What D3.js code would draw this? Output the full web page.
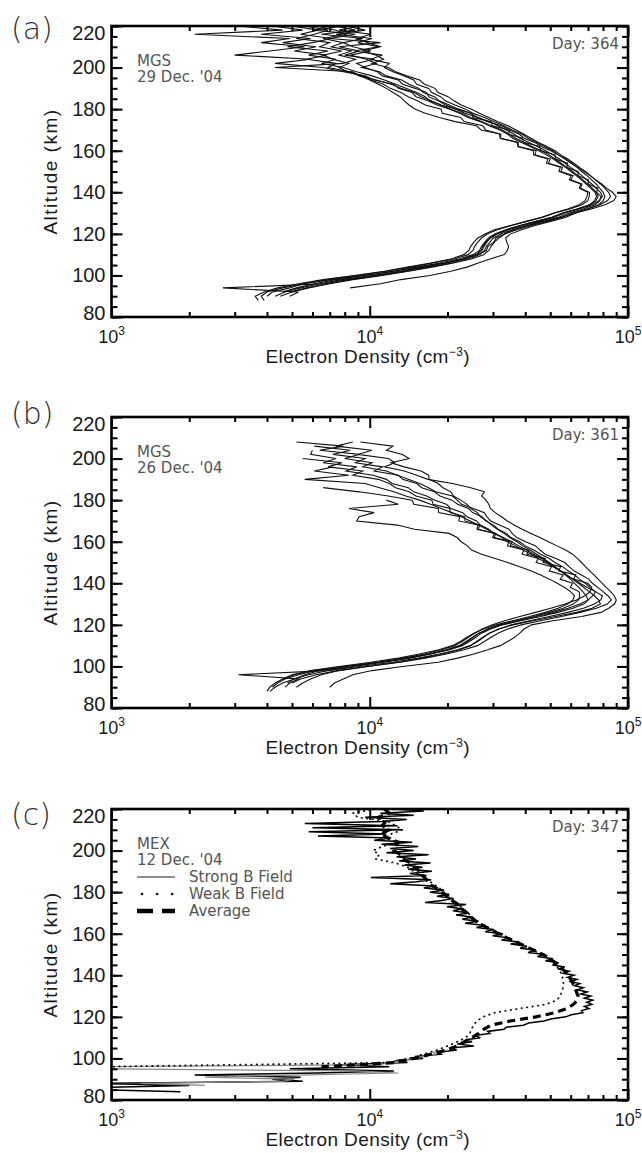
<!DOCTYPE html>
<html>
<head>
<meta charset="utf-8">
<script src="https://cdn.jsdelivr.net/npm/d3@7"></script>
<style>
  body { margin: 0; background: #fff; }
  svg { display: block; }
</style>
</head>
<body>
<script>
// Axis ticks
const yTicks = [80, 100, 120, 140, 160, 180, 200, 220];
const xTicks = [1e3, 1e4, 1e5];
const xExps = ["3", "4", "5"];

// Panel (a) MGS 29 Dec '04 - densities in 1e3 cm^-3, 2 km steps from the top altitude
const topsA = [220, 220, 220, 220, 220, 220, 220, 220, 220];
const a1 = [4.2,5.5,3.8,5.9,4.6,6.2,5.1,6.8,5.7,7.4,6.9,8.4,9.1,10.6,12.1,13.2,14.9,15.8,17.3,18.9,21.6,23.4,26.3,28.6,32.4,34.8,37.9,39.6,43.5,46.1,50.3,53.6,57.4,60.5,64.2,67.6,71.3,74.8,79.1,82.6,87.0,90.0,88.2,81.5,72.0,62.4,55.1,47.3,41.2,36.1,33.4,30.8,30.2,28.7,28.3,26.2,23.1,19.4,15.2,12.3,9.4,7.1,5.5,4.9,4.2,4.0];
const a2 = [8.1,9.6,7.4,10.2,9.0,10.8,8.7,11.2,10.1,11.9,11.4,12.3,13.6,14.8,15.2,16.9,17.4,18.8,19.6,21.4,23.5,25.1,27.8,30.2,33.1,35.6,38.8,41.0,44.2,47.5,51.1,53.8,57.0,60.2,63.5,66.1,69.4,72.3,75.2,77.6,80.1,81.4,80.2,77.0,70.3,62.8,57.5,50.2,43.6,38.7,35.2,33.6,33.9,34.5,34.1,33.2,29.4,26.3,23.8,20.6,17.1,13.2,11.0,8.4];
const a3 = [5.6,6.9,6.1,5.2,7.0,6.4,7.8,6.6,7.2,8.3,7.6,8.2,9.4,10.1,11.3,12.0,13.2,14.1,15.3,16.4,18.9,19.1,22.5,23.2,27.4,28.1,32.2,32.1,37.6,37.5,44.1,43.6,50.0,49.2,55.8,55.0,61.3,60.1,66.4,65.5,70.9,70.8,69.9,66.4,59.6,52.1,46.9,40.3,35.1,30.4,28.1,26.2,25.3,24.6,24.2,23.1,20.8,17.2,14.0,11.4,8.7,6.6,5.3,4.4,3.9,3.6,3.7];
const a4 = [7.3,8.8,6.5,9.4,7.9,8.6,10.1,8.4,9.7,10.6,9.3,10.9,11.6,13.3,14.2,15.5,16.1,17.8,18.6,20.3,22.1,24.6,26.2,28.9,31.4,33.8,36.2,38.1,41.3,44.6,48.0,51.2,54.3,57.1,60.0,63.2,66.3,69.1,72.4,75.1,78.2,79.6,77.1,72.8,64.5,56.9,51.8,45.4,39.2,34.6,31.1,29.4,28.1,27.4,27.0,25.8,23.2,19.6,16.1,13.1,10.2,7.8,6.4,5.4,4.7,4.3];
const a5 = [3.1,4.6,2.1,4.9,3.8,5.6,4.1,3.0,5.9,4.3,6.6,7.9,9.6,10.4,12.4,12.9,14.6,15.1,16.8,18.2,20.4,22.3,24.0,26.8,29.0,31.9,34.1,35.8,38.7,41.8,45.1,48.3,51.4,54.2,57.3,60.1,63.0,66.0,68.7,71.6,74.5,75.6,74.3,70.9,63.4,56.1,50.6,44.1,38.3,33.7,30.6,28.8,27.9,27.1,26.6,25.1,22.4,18.7,15.3,12.4,9.6,7.4,6.1,5.2,4.6];
const a6 = [6.2,7.4,8.1,6.6,7.9,7.1,8.5,7.6,8.8,7.9,4.3,8.6,9.2,10.0,10.8,11.6,12.3,13.1,13.6,14.2,15.0,16.4,18.6,21.4,25.9,27.0,31.8,32.0,37.2,37.5,43.0,43.1,48.9,48.4,54.7,54.0,60.2,59.3,65.6,64.8,69.9,69.4,68.2,64.7,58.3,51.6,46.2,40.5,35.4,31.2,28.6,27.1,26.2,25.5,25.1,24.0,21.4,17.6,14.4,11.6,8.9,6.9,5.6,4.6,4.0,3.8,3.9];
const a7 = [9.2,7.6,10.1,8.9,9.8,11.0,9.4,10.6,11.3,10.2,11.8,12.6,13.9,15.6,16.3,17.9,18.4,20.1,21.2,22.6,24.8,26.6,28.9,31.2,34.3,36.9,39.4,42.1,45.0,48.6,52.1,55.0,58.4,61.8,64.9,68.3,71.6,74.9,78.2,81.3,84.1,85.6,83.4,77.9,69.0,60.9,55.8,48.6,42.3,37.1,33.5,31.6,30.4,29.5,28.9,27.6,24.9,21.1,17.4,14.1,11.2,8.6,7.0,5.8,5.0,4.5];
const a8 = [5.0,6.3,5.4,7.1,6.0,4.8,6.9,5.8,7.4,6.5,7.9,8.9,10.2,11.4,12.6,13.8,15.2,16.4,17.1,18.8,20.6,22.8,24.6,27.1,29.6,32.6,34.6,36.7,39.6,42.4,46.3,49.4,52.2,55.1,58.0,61.1,64.0,66.9,69.8,72.7,75.4,76.6,75.2,71.5,63.8,55.9,50.9,44.0,38.2,33.8,31.2,29.2,28.4,27.7,27.2,26.0,23.5,19.8,16.3,13.5,10.6,8.2,6.7,2.7,5.3,4.9];
const a9 = [7.9,6.1,8.8,7.0,11.0,7.6,9.1,8.0,10.4,8.9,9.6,10.7,11.2,12.9,13.4,15.0,16.6,16.9,18.4,19.7,21.6,24.8,25.1,29.5,29.8,34.9,34.4,39.0,39.4,45.4,46.0,52.2,52.5,58.3,58.0,64.2,64.0,70.3,70.1,76.3,75.6,78.6,77.8,74.6,66.9,59.3,53.8,46.9,40.6,35.7,32.3,30.1,29.2,28.3,27.8,26.7,24.3,20.6,17.0,13.9,10.9,8.4,6.8,5.7,4.9];

// Panel (b) MGS 26 Dec '04 - 2 km steps
const topsB = [208, 206, 204, 208, 200, 196, 186, 180, 208];
const b1 = [5.2,7.9,6.4,9.1,8.0,10.2,9.4,11.6,12.8,14.1,15.6,16.9,18.0,20.9,21.8,22.7,25.2,27.8,28.4,29.4,31.8,34.6,35.6,37.1,40.2,43.9,45.6,47.8,52.3,56.9,59.1,61.8,66.0,70.5,72.8,76.3,80.1,83.6,86.2,83.1,75.4,65.2,55.3,45.8,38.6,34.2,31.4,29.5,27.8,26.1,23.2,19.8,16.4,13.1,9.8,7.6,6.5,5.9,5.5,5.2];
const b2 = [6.1,8.4,7.2,9.6,8.8,11.2,10.4,12.9,13.4,15.2,15.9,17.8,18.7,20.8,21.9,24.1,25.0,27.2,28.1,30.2,31.4,33.8,35.2,38.1,40.0,43.2,45.9,49.4,52.1,55.8,58.6,62.1,64.9,68.3,71.2,74.8,79.6,78.4,74.1,67.2,58.3,49.6,41.5,35.3,31.6,29.1,27.6,26.2,24.4,21.9,18.6,15.4,12.3,9.1,6.9,5.8,5.1,4.6,4.3,4.1];
const b3 = [6.0,5.9,7.4,6.6,8.9,8.1,10.3,11.6,12.2,14.1,14.8,16.6,17.9,19.8,20.6,22.9,23.8,25.9,26.8,28.9,30.2,32.6,34.1,36.8,39.2,42.3,44.8,48.1,51.2,54.6,57.8,61.5,65.2,69.6,74.8,73.1,70.2,65.1,58.6,51.4,44.2,37.6,32.1,28.8,26.4,25.0,23.6,22.2,19.8,16.9,13.8,10.9,8.2,6.4,5.6,5.1,4.8];
const b4 = [9.2,12.3,11.6,13.4,14.2,12.1,13.6,15.8,16.9,17.0,18.4,19.2,20.6,21.1,22.5,23.8,24.6,26.1,26.9,28.4,29.6,31.2,33.1,34.8,37.2,39.1,41.8,44.3,47.0,49.6,52.1,54.8,57.3,59.8,62.1,64.5,66.8,68.9,70.1,67.4,61.2,53.4,45.9,38.4,32.6,29.4,27.1,25.8,24.3,22.8,20.4,17.2,14.3,11.4,8.6,6.8,3.1,5.3,4.9,4.7];
const b5 = [5.5,7.8,6.9,9.4,8.6,10.8,11.9,12.6,14.2,15.1,17.4,17.6,20.4,20.5,23.3,23.4,26.7,26.3,30.4,29.9,34.6,34.1,39.5,38.9,45.0,44.1,50.6,49.5,56.1,54.6,61.0,59.8,64.6,65.1,64.3,61.4,56.1,49.6,43.1,36.8,31.9,28.7,26.6,25.2,23.9,22.4,20.1,17.1,14.0,10.8,7.9,6.0,5.1,4.6,4.3,4.1,4.0];
const b6 = [7.2,6.1,8.3,5.6,9.6,10.9,12.4,13.8,15.6,17.2,18.9,20.8,22.6,24.5,26.3,28.4,30.6,32.9,35.4,37.8,40.5,43.2,46.1,49.0,51.9,54.8,57.9,61.0,64.2,67.5,70.8,74.1,77.0,78.2,72.6,63.1,52.4,42.9,35.8,31.6,29.0,27.4,25.9,24.6,22.3,19.1,16.0,12.9,9.8,7.5,6.2,5.4,5.0];
const b7 = [6.6,9.1,11.8,14.6,14.8,18.4,18.5,22.3,22.1,26.2,26.0,30.8,30.3,35.6,35.0,41.3,40.6,47.8,46.9,54.9,53.8,62.8,61.5,69.9,72.4,71.3,68.1,63.2,57.0,50.2,43.8,38.1,33.4,29.8,27.2,25.5,24.1,22.8,21.3,19.0,16.3,13.5,10.8,8.1,6.2,5.3,4.7,4.4,4.2];
const b8 = [11.6,12.9,8.3,10.4,9.1,8.9,12.8,14.9,20.3,21.8,22.6,23.9,24.8,27.1,30.4,34.2,38.1,42.0,45.9,49.6,53.2,56.8,59.9,62.1,61.2,58.4,53.6,47.8,41.6,35.7,30.9,27.6,25.3,23.8,22.4,20.9,18.5,15.6,12.9,10.1,7.6,5.9,5.0,4.6];
const b9 = [8.6,7.4,10.2,9.0,11.8,12.5,11.4,13.6,15.2,16.8,20.9,24.6,27.8,27.1,28.2,28.9,29.3,30.6,32.4,34.1,36.2,38.9,42.1,45.6,49.2,53.1,57.4,61.0,63.6,66.1,68.4,71.0,73.8,76.6,79.5,82.4,85.6,88.4,90.1,88.7,84.2,78.6,66.1,51.2,42.3,39.6,38.1,36.4,34.2,32.0,28.6,25.3,21.9,18.4,13.4,10.2,8.6,7.9,7.3,7.0];

// Panel (c) MEX 12 Dec '04
// strong B field: 1 km steps from 220 km
const strong1 = [12.5,16.2,11.0,14.8,9.6,13.9,11.2,5.6,12.8,6.0,13.4,5.8,11.6,6.3,12.1,10.4,14.6,11.1,15.4,12.0,14.8,11.6,16.9,12.7,15.1,13.0,17.2,13.6,16.0,14.1,17.4,14.3,16.6,10.1,17.3,15.2,12.0,17.8,16.2,19.4,17.1,20.3,18.2,21.1,19.0,16.4,23.6,19.9,22.8,21.0,24.2,21.6,24.9,22.8,26.3,23.4,28.1,25.9,30.2,28.0,32.8,29.9,34.6,32.4,37.9,35.1,40.6,38.2,44.1,41.0,47.8,44.6,51.2,47.9,53.8,51.0,56.9,53.6,59.1,56.2,61.8,58.4,63.5,60.1,65.0,62.0,67.1,63.8,69.4,65.6,71.8,67.9,73.0,69.2,72.4,67.8,70.6,66.1,66.9,60.3,57.4,50.2,47.3,41.2,39.4,33.8,33.1,28.6,29.2,25.4,26.8,23.6,24.9,21.8,25.3,20.4,21.7,18.3,18.9,15.2,16.1,12.6,14.0,7.8,11.9,4.9,12.4,6.2,2.1,5.4,4.2,5.5,0.9,2.0,0.9,0.9,1.85];
// strong B field, second pass: 1 km steps from 104 km
const strong2 = [20.1,17.6,17.9,15.8,15.0,13.1,12.2,10.6,0.9,0.9,8.8,12.9,5.2,2.3,5.1,4.6,1.3,2.3];
// weak B field: 2 km steps from 220 km
const weak = [10.5,8.6,9.0,11.8,12.6,13.4,12.1,11.5,12.8,11.2,10.3,10.9,10.5,12.6,14.0,14.8,15.8,16.7,17.6,18.6,19.4,20.3,21.2,22.1,23.0,24.0,25.0,26.2,27.6,29.4,31.5,34.0,36.8,39.8,43.0,46.2,49.0,51.5,53.2,54.6,55.5,56.0,56.2,56.0,55.4,54.6,53.0,48.0,38.0,30.5,27.5,26.0,25.2,24.8,24.4,23.5,21.8,20.0,18.2,16.1,14.2,11.8,0.9];
// average: 2 km steps from 220 km
const average = [11.4,11.9,10.8,11.5,11.2,11.9,11.0,11.8,12.9,12.6,12.4,13.2,13.4,14.4,14.9,15.6,16.0,16.6,16.9,18.1,18.9,20.0,20.8,22.0,22.7,23.8,24.6,25.8,27.4,29.5,31.6,34.0,37.0,39.9,43.4,46.8,49.8,52.4,54.8,56.8,58.6,60.0,61.2,62.2,63.2,64.0,63.6,61.5,58.0,52.0,44.0,35.0,29.5,27.6,26.4,24.8,23.2,21.8,19.8,17.2,14.8,12.4,6.5];

// Panel texts
const panelLabels = ["(a)", "(b)", "(c)"];
const craft = ["MGS", "MGS", "MEX"];
const dates = ["29 Dec. '04", "26 Dec. '04", "12 Dec. '04"];
const days = ["Day: 364", "Day: 361", "Day: 347"];
const legendNames = ["Strong B Field", "Weak B Field", "Average"];

// turn a value list into {alt, n} points
function profile(values, topAlt, step) {
    return values.map((v, i) => ({ alt: topAlt - i * step, n: v * 1000 }));
}

const width = 642, height = 1153;
const left = 111.5, right = 628, plotH = 291;
const panelTops = [26, 417, 809];
const labelBase = [39, 424, 825];

const svg = d3.select("body").append("svg")
    .attr("width", width)
    .attr("height", height);

const x = d3.scaleLog().domain([1e3, 1e5]).range([left, right]);

const panelData = [
    [a1, a2, a3, a4, a5, a6, a7, a8, a9].map((v, i) => ({ pts: profile(v, topsA[i], 2), style: "solid" })),
    [b1, b2, b3, b4, b5, b6, b7, b8, b9].map((v, i) => ({ pts: profile(v, topsB[i], 2), style: "solid" })),
    [
        { pts: profile(strong1, 220, 1), style: "strong" },
        { pts: profile(strong2, 104, 1), style: "gray" },
        { pts: profile(weak, 220, 2), style: "dot" },
        { pts: profile(average, 220, 2), style: "dash" }
    ]
];

const sans = "'Liberation Sans', Arial, sans-serif";
const thin = "'DejaVu Sans', sans-serif";

panelTops.forEach((top, p) => {
    const y = d3.scaleLinear().domain([80, 220]).range([top + plotH, top]);
    const g = svg.append("g");

    // clip region for the curves
    g.append("clipPath").attr("id", "clip" + p)
        .append("rect")
        .attr("x", left).attr("y", top)
        .attr("width", right - left).attr("height", plotH);

    const line = d3.line()
        .x(d => x(d.n))
        .y(d => y(d.alt));

    const curves = g.append("g").attr("clip-path", `url(#clip${p})`);
    panelData[p].forEach(c => {
        const path = curves.append("path")
            .attr("d", line(c.pts))
            .attr("fill", "none");
        if (c.style === "solid") {
            path.attr("stroke", "#111").attr("stroke-width", 1.1);
        } else if (c.style === "strong") {
            path.attr("stroke", "#000").attr("stroke-width", 1.5);
        } else if (c.style === "gray") {
            path.attr("stroke", "#888").attr("stroke-width", 1.2);
        } else if (c.style === "dot") {
            path.attr("stroke", "#111").attr("stroke-width", 1.8)
                .attr("stroke-linecap", "round")
                .attr("stroke-dasharray", "0.5,5");
        } else {
            path.attr("stroke", "#000").attr("stroke-width", 3.2)
                .attr("stroke-dasharray", "8,5");
        }
    });

    // y ticks, left (with labels) and right
    const yAxis = g.append("g").attr("transform", `translate(${left},0)`)
        .call(d3.axisLeft(y).tickValues(yTicks).tickSize(-11).tickPadding(6));
    yAxis.selectAll("text")
        .attr("y", d => d === 220 ? 7 : (d === 80 ? -4 : 0))
        .style("font-family", sans)
        .style("font-size", "20px")
        .attr("fill", "#1a1a1a");
    g.append("g").attr("transform", `translate(${left},0)`)
        .call(d3.axisLeft(y).ticks(28).tickSize(-6).tickFormat(""));
    g.append("g").attr("transform", `translate(${right},0)`)
        .call(d3.axisRight(y).tickValues(yTicks).tickSize(-11).tickFormat(""));
    g.append("g").attr("transform", `translate(${right},0)`)
        .call(d3.axisRight(y).ticks(28).tickSize(-6).tickFormat(""));

    // x ticks, bottom and top
    const minor = x.ticks().filter(v => !xTicks.includes(v));
    [[top + plotH, d3.axisBottom], [top, d3.axisTop]].forEach(([ty, ax]) => {
        g.append("g").attr("transform", `translate(0,${ty})`)
            .call(ax(x).tickValues(xTicks).tickSize(-11).tickFormat(""));
        g.append("g").attr("transform", `translate(0,${ty})`)
            .call(ax(x).tickValues(minor).tickSize(-5).tickFormat(""));
    });
    g.selectAll(".domain").remove();
    g.selectAll(".tick line").attr("stroke", "#000").attr("stroke-width", 2);

    // frame
    g.append("rect")
        .attr("x", left).attr("y", top)
        .attr("width", right - left).attr("height", plotH)
        .attr("fill", "none").attr("stroke", "#000").attr("stroke-width", 2.6);

    // x tick labels 10^n
    xTicks.forEach((v, i) => {
        const t = g.append("text")
            .attr("x", x(v)).attr("y", top + plotH + 26)
            .attr("text-anchor", "middle")
            .style("font-family", sans)
            .style("font-size", "18px")
            .attr("fill", "#1a1a1a");
        t.append("tspan").text("10");
        t.append("tspan").attr("dy", -8).style("font-size", "12px").text(xExps[i]);
    });

    // axis titles
    const xt = g.append("text")
        .attr("x", (left + right) / 2 - 2).attr("y", top + plotH + 46)
        .attr("text-anchor", "middle")
        .style("font-family", sans)
        .style("font-size", "19px")
        .style("letter-spacing", "0.4px")
        .attr("fill", "#1a1a1a");
    xt.append("tspan").text("Electron Density (cm");
    xt.append("tspan").attr("dy", -7).style("font-size", "12px").text("\u22123");
    xt.append("tspan").attr("dy", 7).text(")");

    g.append("text")
        .attr("transform", `translate(57,${top + plotH / 2}) rotate(-90)`)
        .attr("text-anchor", "middle")
        .style("font-family", sans)
        .style("font-size", "19px")
        .style("letter-spacing", "1.5px")
        .attr("fill", "#1a1a1a")
        .text("Altitude (km)");

    // panel letter
    g.append("text")
        .attr("x", 11).attr("y", labelBase[p])
        .style("font-family", thin)
        .style("font-size", "30px")
        .style("font-weight", 200)
        .attr("fill", "#333")
        .text(panelLabels[p]);

    // annotations
    const note = (tx, ty, s, anchor) => g.append("text")
        .attr("x", tx).attr("y", ty)
        .attr("text-anchor", anchor || "start")
        .style("font-family", thin)
        .style("font-size", "15px")
        .attr("fill", "#555")
        .text(s);
    note(137, top + 40, craft[p]);
    note(137, top + 56, dates[p]);
    note(619, top + 23, days[p], "end");

    if (p === 2) {
        // legend
        const rows = [top + 68, top + 85, top + 102];
        g.append("line").attr("x1", 137).attr("x2", 175).attr("y1", rows[0]).attr("y2", rows[0])
            .attr("stroke", "#222").attr("stroke-width", 1.2);
        g.append("line").attr("x1", 142).attr("x2", 175).attr("y1", rows[1]).attr("y2", rows[1])
            .attr("stroke", "#111").attr("stroke-width", 2.6).attr("stroke-linecap", "round")
            .attr("stroke-dasharray", "0.1,15");
        g.append("line").attr("x1", 137).attr("x2", 175).attr("y1", rows[2]).attr("y2", rows[2])
            .attr("stroke", "#000").attr("stroke-width", 4.5).attr("stroke-dasharray", "16,9");
        legendNames.forEach((s, i) => note(189, rows[i] + 5, s));
    }
});
</script>
</body>
</html>
